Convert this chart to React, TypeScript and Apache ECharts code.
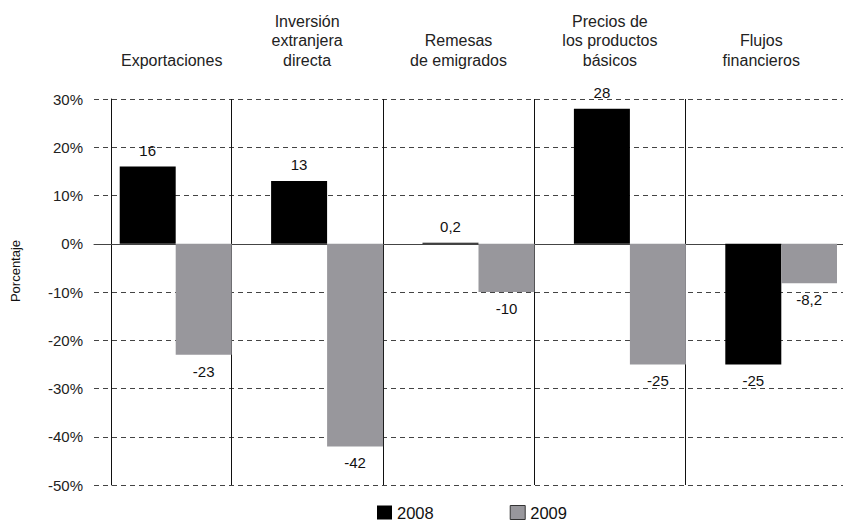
import React, { useEffect, useRef } from "react";
import * as echarts from "echarts";

const categories = [
  "Exportaciones",
  "Inversión\nextranjera\ndirecta",
  "Remesas\nde emigrados",
  "Precios de\nlos productos\nbásicos",
  "Flujos\nfinancieros",
];
const values2008 = [16, 13, 0.2, 28, -25];
const values2009 = [-23, -42, -10, -25, -8.2];
const seriesNames = ["2008", "2009"];
const yMin = -50;
const yMax = 30;
const yStep = 10;

const FONT = '"Liberation Sans", Arial, Helvetica, sans-serif';

const fmt = (v: number) => String(v).replace(".", ",");

const mkData = (vals: number[]) =>
  vals.map((v) => ({ value: v, label: { position: v >= 0 ? "top" : "bottom" } }));

export default function App() {
  const ref = useRef<HTMLDivElement>(null);
  useEffect(() => {
    if (!ref.current) return;
    const chart = echarts.init(ref.current, null, { renderer: "svg" });
    const barLabel = {
      show: true,
      fontSize: 15,
      color: "#111",
      fontFamily: FONT,
      distance: 9,
      formatter: (p: any) => fmt(p.value),
    };
    chart.setOption({
      animation: false,
      backgroundColor: "#fff",
      textStyle: { fontFamily: FONT },
      grid: [
        { left: 94, right: 0, top: 99, bottom: 38 },
        { left: 80, right: 6, top: 99, bottom: 38 },
      ],
      xAxis: [
        {
          gridIndex: 0,
          type: "value",
          min: 0,
          max: 1,
          axisLine: { show: true, onZero: true, lineStyle: { color: "#444", width: 1 } },
          axisTick: { show: false },
          axisLabel: { show: false },
          splitLine: { show: false },
        },
        {
          gridIndex: 1,
          type: "category",
          position: "top",
          data: categories,
          axisLine: { show: false },
          axisTick: { show: false },
          axisLabel: {
            interval: 0,
            margin: 29,
            fontSize: 16,
            lineHeight: 19.5,
            color: "#222",
            fontFamily: FONT,
            formatter: (v: string, i: number) => (i === 0 ? `{first|${v}}` : v),
            rich: {
              first: {
                padding: [0, 0, 0, 32],
                fontSize: 16,
                lineHeight: 19.5,
                color: "#222",
                fontFamily: FONT,
              },
            },
          },
          splitLine: {
            show: true,
            showMinLine: false,
            showMaxLine: false,
            lineStyle: { color: "#111", width: 1 },
          },
        },
      ],
      yAxis: [
        {
          gridIndex: 0,
          type: "value",
          min: yMin,
          max: yMax,
          interval: yStep,
          axisLine: { show: false },
          axisTick: { show: false },
          axisLabel: {
            formatter: "{value}%",
            fontSize: 15,
            color: "#222",
            margin: 11,
            fontFamily: FONT,
          },
          splitLine: { show: true, lineStyle: { color: "#444", type: [5, 4], width: 1 } },
          name: "Porcentaje",
          nameLocation: "middle",
          nameRotate: 90,
          nameGap: 72,
          nameTextStyle: { fontSize: 13, color: "#111", padding: [0, 0, 0, 42], fontFamily: FONT },
        },
        {
          gridIndex: 1,
          type: "value",
          min: yMin,
          max: yMax,
          interval: yStep,
          offset: -31,
          axisLine: { show: true, lineStyle: { color: "#111", width: 1 } },
          axisTick: { show: false },
          axisLabel: { show: false },
          splitLine: { show: false },
        },
      ],
      legend: {
        data: [
          { name: seriesNames[0] },
          { name: seriesNames[1], itemStyle: { borderColor: "#333", borderWidth: 1 } },
        ],
        left: 372,
        top: 499,
        itemWidth: 15,
        itemHeight: 14,
        itemGap: 76,
        icon: "rect",
        selectedMode: false,
        textStyle: { fontSize: 16.5, color: "#111", fontFamily: FONT },
      },
      series: [
        {
          name: "_pad",
          type: "bar",
          xAxisIndex: 1,
          yAxisIndex: 1,
          data: categories.map(() => null),
          barWidth: 40,
          barGap: "0%",
          silent: true,
        },
        {
          name: seriesNames[0],
          type: "bar",
          xAxisIndex: 1,
          yAxisIndex: 1,
          data: mkData(values2008),
          barWidth: 56,
          barGap: "0%",
          itemStyle: { color: "#000" },
          label: barLabel,
        },
        {
          name: seriesNames[1],
          type: "bar",
          xAxisIndex: 1,
          yAxisIndex: 1,
          data: mkData(values2009),
          barWidth: 56,
          barGap: "0%",
          itemStyle: { color: "#98979c" },
          label: barLabel,
        },
      ],
    });
    return () => chart.dispose();
  }, []);
  return (
    <div
      ref={ref}
      style={{ position: "absolute", left: 0, top: 0, width: 843, height: 523 }}
    />
  );
}
